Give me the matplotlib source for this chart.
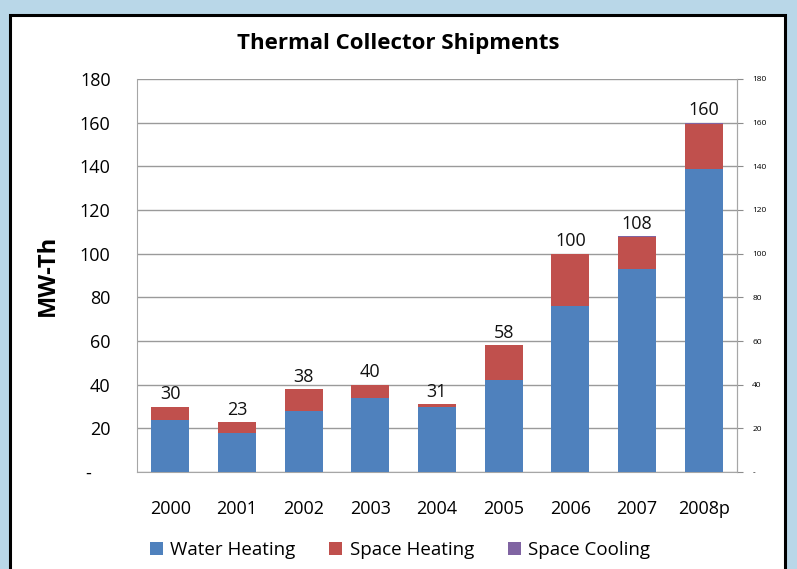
import numpy as np
import matplotlib.pyplot as plt
from matplotlib.patches import Rectangle
from matplotlib.ticker import FuncFormatter

plt.rcParams['font.family'] = ['Open Sans', 'DejaVu Sans']

# datos (MW-Th)
years = ['2000', '2001', '2002', '2003', '2004', '2005', '2006', '2007', '2008p']
water_heating = [24, 18, 28, 34, 30, 42, 76, 93, 139]
space_heating = [6, 5, 10, 6, 1, 16, 24, 14.7, 20.5]
space_cooling = [0, 0, 0, 0, 0, 0, 0, 0.3, 0.5]
totals = [30, 23, 38, 40, 31, 58, 100, 108, 160]

fig = plt.figure(figsize=(7.97, 5.69), dpi=100)
fig.patch.set_facecolor('#b9d7e8')
# marco blanco con borde negro
fig.patches.append(Rectangle((10/797, -0.05), 775/797, 1 - 15/569 + 0.05,
                             transform=fig.transFigure, facecolor='white',
                             edgecolor='black', linewidth=2.2, zorder=-10))

ax = fig.add_axes([137/797, 1 - 472/569, 600/797, 393/569])
x = np.arange(len(years))
w = 0.57
wh = np.array(water_heating)
sh = np.array(space_heating)
sc = np.array(space_cooling)
ax.bar(x, wh, w, color='#4F81BD', label='Water Heating', zorder=3)
ax.bar(x, sh, w, bottom=wh, color='#C0504D', label='Space Heating', zorder=3)
ax.bar(x, sc, w, bottom=wh + sh, color='#8064A2', label='Space Cooling', zorder=3)

for xi, t, top in zip(x, totals, wh + sh + sc):
    ax.text(xi, top + 1.5, str(t), ha='center', va='bottom', fontsize=13, color='#111111')

ax.set_xlim(-0.5, len(years) - 0.5)
ax.set_ylim(0, 180)
ax.set_xticks(x)
ax.set_xticklabels(years, fontsize=13)
ax.set_yticks(np.arange(0, 181, 20))
# formato contable: el cero sale como guion
ax.yaxis.set_major_formatter(FuncFormatter(lambda v, p: '-    ' if v == 0 else f'{int(v)}'))
ax.tick_params(axis='y', length=0, labelsize=13, pad=19)
ax.tick_params(axis='x', length=0, pad=20)
ax.grid(axis='y', color='#9a9a9a', linewidth=1, zorder=0)
for s in ax.spines.values():
    s.set_color('#a6a6a6')
ax.spines['top'].set_visible(False)
ax.set_ylabel('MW-Th', fontsize=17, fontweight='bold', labelpad=14)

ax2 = ax.twinx()
ax2.set_ylim(0, 180)
ax2.set_yticks(np.arange(0, 181, 20))
ax2.yaxis.set_major_formatter(FuncFormatter(lambda v, p: '-' if v == 0 else f'{int(v)}'))
ax2.tick_params(axis='y', length=4, color='#8c8c8c', labelsize=6, pad=7)
for s in ax2.spines.values():
    s.set_visible(False)
ax2.spines['right'].set_visible(True)
ax2.spines['right'].set_color('#a6a6a6')

fig.text(398/797, 1 - 43/569, 'Thermal Collector Shipments', ha='center', va='center',
         fontsize=16, fontweight='bold')

handles, labels = ax.get_legend_handles_labels()
fig.legend(handles, labels, loc='center', bbox_to_anchor=(400/797, 1 - 550/569),
           ncol=3, frameon=False, fontsize=13.5, handlelength=0.7, handleheight=0.7,
           handletextpad=0.4, columnspacing=1.8)

plt.savefig('out.png', dpi=100, facecolor=fig.get_facecolor())
